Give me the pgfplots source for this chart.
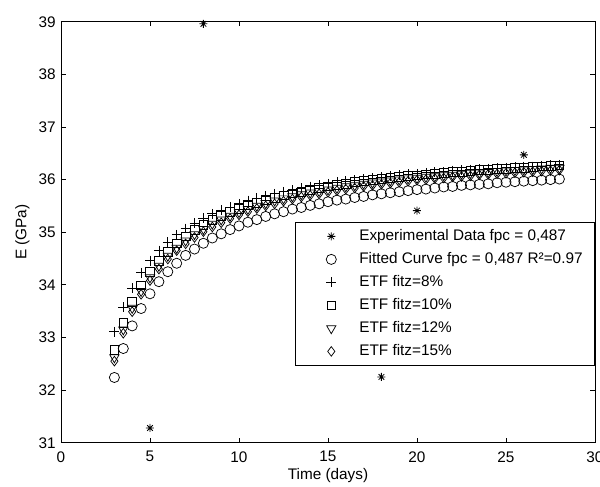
\documentclass[border=0pt]{standalone}
\usepackage{fontspec}
\setmainfont{Liberation Sans}
\usepackage{pgfplots}
\usepackage{pgfplotstable}
\pgfplotsset{compat=1.18}

\pgfdeclareplotmark{mstar}{%
  \pgfpathmoveto{\pgfqpoint{-\pgfplotmarksize}{0pt}}%
  \pgfpathlineto{\pgfqpoint{\pgfplotmarksize}{0pt}}%
  \pgfpathmoveto{\pgfqpoint{0pt}{-\pgfplotmarksize}}%
  \pgfpathlineto{\pgfqpoint{0pt}{\pgfplotmarksize}}%
  \pgfpathmoveto{\pgfqpoint{-0.707\pgfplotmarksize}{-0.707\pgfplotmarksize}}%
  \pgfpathlineto{\pgfqpoint{0.707\pgfplotmarksize}{0.707\pgfplotmarksize}}%
  \pgfpathmoveto{\pgfqpoint{-0.707\pgfplotmarksize}{0.707\pgfplotmarksize}}%
  \pgfpathlineto{\pgfqpoint{0.707\pgfplotmarksize}{-0.707\pgfplotmarksize}}%
  \pgfusepathqstroke
}

\pgfplotstableread{
t C P S T D
3 32.24 33.11 32.76 32.62 32.55
3.5 32.79 33.58 33.27 33.15 33.08
4 33.22 33.94 33.67 33.56 33.49
4.5 33.55 34.23 33.99 33.88 33.82
5 33.83 34.46 34.24 34.14 34.08
5.5 34.06 34.65 34.46 34.36 34.30
6 34.25 34.81 34.63 34.55 34.49
6.5 34.41 34.95 34.79 34.70 34.65
7 34.56 35.07 34.92 34.84 34.78
7.5 34.68 35.17 35.04 34.96 34.90
8 34.79 35.27 35.14 35.06 35.01
8.5 34.89 35.35 35.23 35.16 35.10
9 34.97 35.42 35.31 35.24 35.18
9.5 35.05 35.48 35.38 35.31 35.26
10 35.12 35.54 35.45 35.38 35.33
10.5 35.19 35.60 35.51 35.44 35.39
11 35.24 35.65 35.56 35.50 35.45
11.5 35.30 35.69 35.61 35.55 35.50
12 35.35 35.73 35.66 35.60 35.54
12.5 35.39 35.77 35.70 35.64 35.59
13 35.44 35.80 35.74 35.68 35.63
13.5 35.47 35.84 35.77 35.72 35.67
14 35.51 35.87 35.81 35.75 35.70
14.5 35.54 35.89 35.84 35.78 35.73
15 35.58 35.92 35.87 35.81 35.76
15.5 35.61 35.95 35.90 35.84 35.79
16 35.63 35.97 35.92 35.87 35.82
16.5 35.66 35.99 35.95 35.89 35.84
17 35.68 36.01 35.97 35.92 35.87
17.5 35.71 36.03 35.99 35.94 35.89
18 35.73 36.05 36.01 35.96 35.91
18.5 35.75 36.07 36.03 35.98 35.93
19 35.77 36.08 36.05 36.00 35.95
19.5 35.79 36.10 36.07 36.02 35.97
20 35.81 36.11 36.08 36.03 35.99
20.5 35.82 36.13 36.10 36.05 36.00
21 35.84 36.14 36.11 36.06 36.02
21.5 35.86 36.15 36.13 36.08 36.03
22 35.87 36.17 36.14 36.09 36.05
22.5 35.89 36.18 36.15 36.11 36.06
23 35.90 36.19 36.17 36.12 36.07
23.5 35.91 36.20 36.18 36.13 36.09
24 35.92 36.21 36.19 36.14 36.10
24.5 35.94 36.22 36.20 36.16 36.11
25 35.95 36.23 36.21 36.17 36.12
25.5 35.96 36.24 36.22 36.18 36.13
26 35.97 36.25 36.23 36.19 36.14
26.5 35.98 36.25 36.24 36.20 36.15
27 35.99 36.26 36.25 36.21 36.16
27.5 36.00 36.27 36.26 36.22 36.17
28 36.01 36.28 36.27 36.22 36.18
}\etf

\pgfplotstableread{
t E
5 31.28
8 38.96
18 32.25
20 35.41
26 36.47
}\expdata

\begin{document}
\fontsize{11.5}{13.8}\selectfont
\begin{tikzpicture}
\begin{axis}[
  scale only axis,
  width=400.5pt, height=315.75pt,
  xmin=0, xmax=30, ymin=31, ymax=39,
  xtick={0,5,10,15,20,25,30},
  ytick={31,32,33,34,35,36,37,38,39},
  tick align=inside,
  major tick length=3.4pt,
  axis line style={line width=0.6pt},
  every tick/.style={black, line width=0.6pt},
  /pgf/number format/assume math mode=true,
  tick label style={font=\fontsize{11.5}{13.8}\selectfont},
  xticklabel style={yshift=-2.5pt},
  xlabel={Time (days)},
  ylabel={E (GPa)},
  xlabel style={at={(axis description cs:0.5,-0.077)}, anchor=center},
  ylabel style={at={(axis description cs:-0.0724,0.5)}, anchor=center},
  only marks,
  legend image code/.code={%
    \path[draw=none] (0pt,-1pt) rectangle (39pt,1pt);
    \draw[#1] plot coordinates {(18pt,0pt)};%
  },
  legend cell align=left,
  legend style={
    at={(1,0.524)}, anchor=north east,
    draw=black, line width=0.6pt, fill=white,
    inner xsep=9pt, inner ysep=5pt,
    row sep=6.45pt,
    nodes={inner sep=0pt, text height=8.3pt, text depth=2.5pt},
    font=\fontsize{11.5}{13.8}\selectfont,
  },
]
\addplot[black, mark=mstar, mark size=3pt, line width=0.6pt] table[x=t, y=E] {\expdata};
\addlegendentry{Experimental Data fpc = 0,487}
\addplot[black, mark=o, mark size=3.8pt, line width=0.55pt] table[x=t, y=C] {\etf};
\addlegendentry{Fitted Curve fpc = 0,487 R²=0.97}
\addplot[black, mark=+, mark size=3.7pt, line width=0.55pt] table[x=t, y=P] {\etf};
\addlegendentry{ETF fitz=8\%}
\addplot[black, mark=square, mark size=3.3pt, line width=0.55pt] table[x=t, y=S] {\etf};
\addlegendentry{ETF fitz=10\%}
\addplot[black, mark=triangle, mark size=4pt, mark options={rotate=180}, line width=0.55pt] table[x=t, y=T] {\etf};
\addlegendentry{ETF fitz=12\%}
\addplot[black, mark=diamond, mark size=3.6pt, line width=0.55pt] table[x=t, y=D] {\etf};
\addlegendentry{ETF fitz=15\%}
\end{axis}
\pgfresetboundingbox
\path[use as bounding box] ([shift={(-45.75pt,-33.2pt)}]current axis.south west) rectangle ([shift={(3.75pt,16.3pt)}]current axis.north east);
\end{tikzpicture}
\end{document}
